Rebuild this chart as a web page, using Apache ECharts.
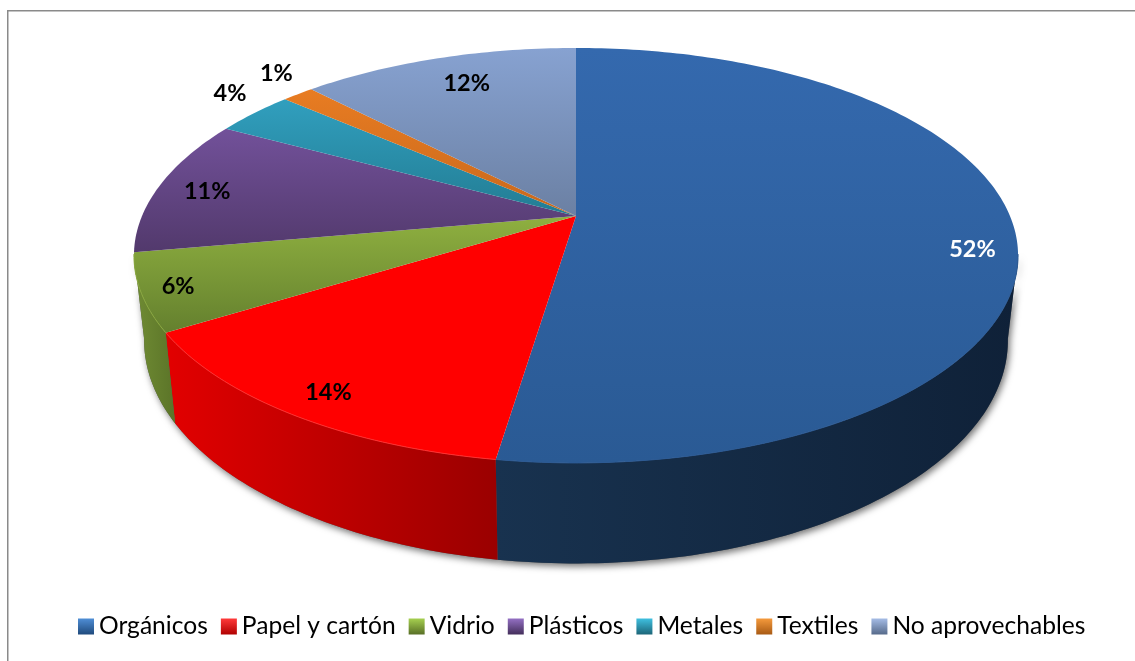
<!DOCTYPE html>
<html>
<head>
<meta charset="utf-8">
<style>html,body{margin:0;padding:0;background:#fff}#c{width:1135px;height:661px}</style>
<script src="https://cdn.jsdelivr.net/npm/echarts@6/dist/echarts.min.js"></script>
</head>
<body>
<div id="c"></div>
<script>
// Data (percent share of each slice)
const categories = ['Orgánicos','Papel y cartón','Vidrio','Plásticos','Metales','Textiles','No aprovechables'];
const values = [52.4,13.8,6.0,10.7,3.5,1.4,12.2];

// Styles
const topColors = [['#3469ae','#2a5a94'],['#ff0000','#ff0000'],['#8fb040','#64802e'],['#72519a','#52396c'],['#319fbe','#227c93'],['#e87c22','#c8681c'],['#87a2d1','#6b80a3']];
const wallColors = [['#18324f','#0f2138'],['#e20000','#9a0000'],['#708c34','#5b7428'],['#4a3362','#3c2950'],['#1f7086','#1a5f72'],['#b5601a','#a25516'],['#5b6e8c','#4e5f78']];
const rimColors = ['#2c5a94','#ff3030','#8aa83f','#5c4079','#2a88a2','#d87420','#7d93b8'];
const legendColors = [['#4f8ed6','#1f4a7c'],['#ff3a3a','#b00000'],['#a6d050','#586f26'],['#9470c4','#432e5a'],['#3fc0e0','#1c6578'],['#f59a3c','#a85a14'],['#a5bce6','#566a8a']];
const labelColors = ['#ffffff','#000000','#000000','#000000','#000000','#000000','#000000'];
const labelRadius = [0.90,0.90,0.92,0.88,1.136,1.146,0.813];
const labelAngleNudge = [5.9,-0.6,0,-0.8,2.7,2.3,1.2];

// Perspective projection of the disc: a top and a bottom circle seen from above
const K = 0.19;
const TOP = {x:576,y:216,a:434,b:200};
const BOT = {x:576,y:298,a:424,b:215};
const WALL_FROM = 100.6, WALL_TO = 259.4;
const rad = d => d*Math.PI/180;
function project(P,deg,r){
  const u=r*Math.sin(rad(deg)), v=r*Math.cos(rad(deg)), d=1+K*v;
  return [P.x+P.a*u/d, P.y-P.b*v/d];
}
function arc(P,from,to){
  const pts=[], n=Math.max(2,Math.ceil(Math.abs(to-from)));
  for(let i=0;i<=n;i++) pts.push(project(P,from+(to-from)*i/n,1));
  return pts;
}
const total = values.reduce((s,v)=>s+v,0);
const starts = values.map((v,i)=>values.slice(0,i).reduce((s,x)=>s+x,0)/total*360);
const vGrad = c => new echarts.graphic.LinearGradient(0,0,0,1,[{offset:0,color:c[0]},{offset:1,color:c[1]}]);
const hGrad = c => new echarts.graphic.LinearGradient(0,0,1,0,[{offset:0,color:c[0]},{offset:1,color:c[1]}]);

function renderSlice(i){
  return function(params,api){
    const sweep = api.value(0)/total*360, from = starts[i], to = from+sweep;
    const children=[];
    const wf=Math.max(from,WALL_FROM), wt=Math.min(to,WALL_TO);
    if(wt>wf){
      const t=arc(TOP,wf,wt), b=arc(BOT,wf,wt).reverse(), wall=t.concat(b);
      children.push({type:'polygon',z2:0,shape:{points:wall},style:{fill:'#555',shadowBlur:7,shadowColor:'rgba(0,0,0,0.55)',shadowOffsetX:2,shadowOffsetY:3}});
      children.push({type:'polygon',z2:1,shape:{points:wall},style:{fill:hGrad(wallColors[i])}});
      children.push({type:'polyline',z2:6,shape:{points:t},style:{fill:null,stroke:rimColors[i],lineWidth:1}});
    }
    children.push({type:'polygon',z2:5,shape:{points:[[TOP.x,TOP.y]].concat(arc(TOP,from,to))},style:{fill:vGrad(topColors[i])}});
    const p=project(TOP,from+sweep/2+labelAngleNudge[i],labelRadius[i]);
    children.push({type:'text',z2:10,style:{text:Math.round(api.value(0))+'%',x:p[0],y:p[1],align:'center',verticalAlign:'middle',fill:labelColors[i],font:'bold 23.5px Lato'}});
    return {type:'group',children};
  };
}

const chart = echarts.init(document.getElementById('c'));
chart.setOption({
  animation:false,
  backgroundColor:'#ffffff',
  graphic:[
    {type:'rect',shape:{x:7,y:10,width:1128,height:1.5},style:{fill:'#8a8a8a'},silent:true},
    {type:'rect',shape:{x:7,y:10,width:1.5,height:651},style:{fill:'#8a8a8a'},silent:true}
  ],
  legend:{
    left:73,top:609,itemWidth:16,itemHeight:16,itemGap:13,
    selectedMode:false,
    icon:'rect',
    textStyle:{fontFamily:'Lato',fontSize:24.6,color:'#000'},
    data:categories
  },
  series:categories.map((name,i)=>({
    type:'custom',name,coordinateSystem:'none',
    itemStyle:{color:vGrad(legendColors[i])},
    renderItem:renderSlice(i),
    data:[[values[i]]],
    silent:true
  }))
});
</script>
</body>
</html>
